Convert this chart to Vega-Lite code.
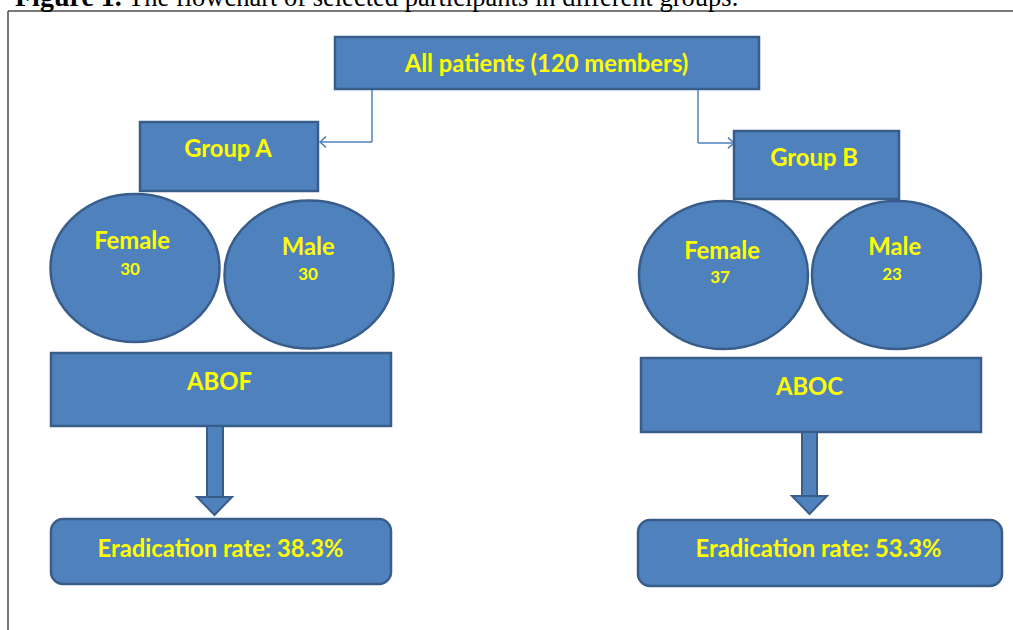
{
  "$schema": "https://vega.github.io/schema/vega-lite/v6.json",
  "width": 1013,
  "height": 630,
  "autosize": {"type": "none"},
  "padding": 0,
  "background": "white",
  "config": {"view": {"stroke": null}},
  "datasets": {
    "frame": [
      {"x": 8, "y": 11, "x2": 1013, "y2": 11},
      {"x": 8, "y": 11, "x2": 8, "y2": 630}
    ],
    "connectors": [
      {"x": 372, "y": 89, "x2": 372, "y2": 142},
      {"x": 372, "y": 142, "x2": 320, "y2": 142},
      {"x": 698, "y": 89, "x2": 698, "y2": 143},
      {"x": 698, "y": 143, "x2": 734, "y2": 143}
    ],
    "heads": [
      {"x": 320, "y": 142, "dir": "left"},
      {"x": 734, "y": 143, "dir": "right"}
    ],
    "boxes": [
      {"id": "all", "x": 335, "x2": 759, "y": 37, "y2": 89, "kind": "plain"},
      {"id": "groupA", "x": 140, "x2": 318, "y": 122, "y2": 191, "kind": "plain"},
      {"id": "groupB", "x": 734, "x2": 899, "y": 131, "y2": 199, "kind": "plain"},
      {"id": "abof", "x": 51, "x2": 391, "y": 353, "y2": 426, "kind": "plain"},
      {"id": "aboc", "x": 641, "x2": 981, "y": 358, "y2": 432, "kind": "plain"},
      {"id": "resA", "x": 51, "x2": 391, "y": 519, "y2": 584, "kind": "rounded"},
      {"id": "resB", "x": 638, "x2": 1002, "y": 520, "y2": 586, "kind": "rounded"}
    ],
    "ellipses": [
      {"id": "femaleA", "x": 135, "y": 268},
      {"id": "maleA", "x": 309, "y": 274.5},
      {"id": "femaleB", "x": 723.5, "y": 275},
      {"id": "maleB", "x": 896.5, "y": 275}
    ],
    "shafts": [
      {"x": 207, "x2": 223, "y": 426, "y2": 498},
      {"x": 802, "x2": 817, "y": 432, "y2": 497}
    ],
    "arrowheads": [
      {"x": 214.5, "y": 497},
      {"x": 809.5, "y": 496}
    ],
    "labels": [
      {"text": "All patients (120 members)", "x": 546.5, "y": 63, "level": "label"},
      {"text": "Group A", "x": 228, "y": 148, "level": "label"},
      {"text": "Group B", "x": 814, "y": 157, "level": "label"},
      {"text": "Female", "x": 132, "y": 239.5, "level": "label"},
      {"text": "30", "x": 130, "y": 267.5, "level": "count"},
      {"text": "Male", "x": 308.3, "y": 246, "level": "label"},
      {"text": "30", "x": 308, "y": 272.5, "level": "count"},
      {"text": "Female", "x": 722, "y": 250, "level": "label"},
      {"text": "37", "x": 720, "y": 276, "level": "count"},
      {"text": "Male", "x": 894.7, "y": 246, "level": "label"},
      {"text": "23", "x": 892, "y": 272.5, "level": "count"},
      {"text": "ABOF", "x": 219.5, "y": 381, "level": "label"},
      {"text": "ABOC", "x": 809.5, "y": 386, "level": "label"},
      {"text": "Eradication rate: 38.3%", "x": 220.5, "y": 548, "level": "label"},
      {"text": "Eradication rate: 53.3%", "x": 818.5, "y": 548, "level": "label"}
    ],
    "title": [
      {"text": "Figure 1.", "x": 15, "y": 6, "part": "bold"},
      {"text": "The flowchart of selected participants in different groups.", "x": 128, "y": 6, "part": "normal"}
    ]
  },
  "encoding": {
    "x": {"field": "x", "type": "quantitative", "scale": {"domain": [0, 1013], "nice": false, "zero": false}, "axis": null},
    "y": {"field": "y", "type": "quantitative", "scale": {"domain": [0, 630], "nice": false, "zero": false, "reverse": true}, "axis": null}
  },
  "layer": [
    {
      "data": {"name": "frame"},
      "mark": {"type": "rule", "color": "#4d4d4d", "strokeWidth": 1.5},
      "encoding": {"x2": {"field": "x2"}, "y2": {"field": "y2"}}
    },
    {
      "data": {"name": "connectors"},
      "mark": {"type": "rule", "color": "#4F81BD", "strokeWidth": 1.5},
      "encoding": {"x2": {"field": "x2"}, "y2": {"field": "y2"}}
    },
    {
      "data": {"name": "heads"},
      "mark": {"type": "point", "filled": false, "stroke": "#4F81BD", "strokeWidth": 1.5, "size": 144, "opacity": 1},
      "encoding": {
        "shape": {"field": "dir", "type": "nominal", "scale": {"domain": ["left", "right"], "range": ["M 1 -0.9 L 0 0 L 1 0.9", "M -1 -0.9 L 0 0 L -1 0.9"]}, "legend": null}
      }
    },
    {
      "data": {"name": "boxes"},
      "transform": [{"filter": "datum.kind === 'plain'"}],
      "mark": {"type": "rect", "fill": "#4F81BD", "stroke": "#385D8A", "strokeWidth": 2.5},
      "encoding": {"x2": {"field": "x2"}, "y2": {"field": "y2"}}
    },
    {
      "data": {"name": "boxes"},
      "transform": [{"filter": "datum.kind === 'rounded'"}],
      "mark": {"type": "rect", "fill": "#4F81BD", "stroke": "#385D8A", "strokeWidth": 2.5, "cornerRadius": 12},
      "encoding": {"x2": {"field": "x2"}, "y2": {"field": "y2"}}
    },
    {
      "data": {"name": "ellipses"},
      "mark": {"type": "point", "shape": "M -1 0 A 1 0.876 0 1 1 1 0 A 1 0.876 0 1 1 -1 0 Z", "size": 28561, "filled": true, "fill": "#4F81BD", "stroke": "#385D8A", "strokeWidth": 2.5, "opacity": 1}
    },
    {
      "data": {"name": "shafts"},
      "mark": {"type": "rect", "fill": "#4F81BD", "stroke": "#385D8A", "strokeWidth": 2},
      "encoding": {"x2": {"field": "x2"}, "y2": {"field": "y2"}}
    },
    {
      "data": {"name": "arrowheads"},
      "mark": {"type": "point", "shape": "M -1 0 L 1 0 L 0 1.03 Z", "size": 1225, "filled": true, "fill": "#4F81BD", "stroke": "#385D8A", "strokeWidth": 2, "opacity": 1}
    },
    {
      "data": {"name": "labels"},
      "mark": {"type": "text", "font": "Lato", "fontWeight": "bold", "color": "#FFFF00", "align": "center", "baseline": "middle", "dy": 2},
      "encoding": {
        "text": {"field": "text"},
        "size": {"field": "level", "type": "nominal", "scale": {"domain": ["label", "count"], "range": [23.8, 17]}, "legend": null}
      }
    },
    {
      "data": {"name": "title"},
      "transform": [{"filter": "datum.part === 'bold'"}],
      "mark": {"type": "text", "font": "Liberation Serif", "fontWeight": "bold", "fontSize": 28, "color": "#000000", "align": "left", "baseline": "alphabetic"},
      "encoding": {"text": {"field": "text"}}
    },
    {
      "data": {"name": "title"},
      "transform": [{"filter": "datum.part === 'normal'"}],
      "mark": {"type": "text", "font": "Liberation Serif", "fontSize": 26.5, "color": "#000000", "align": "left", "baseline": "alphabetic"},
      "encoding": {"text": {"field": "text"}}
    }
  ]
}
